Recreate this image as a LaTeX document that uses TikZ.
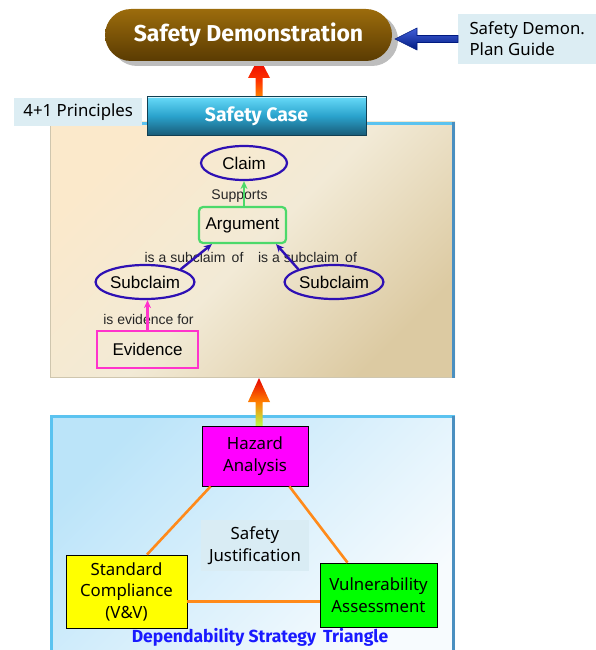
\documentclass[tikz,border=0pt]{standalone}
\usepackage{fontspec}
\setmainfont{Noto Sans}[BoldFont={Fira Sans Bold}]
\newfontfamily\arialf{Liberation Sans}
\usetikzlibrary{shapes.geometric,arrows.meta,calc}
\definecolor{sdtop}{HTML}{9C6C0C}
\definecolor{sdbot}{HTML}{5A3B02}
\definecolor{sdshadow}{HTML}{BDBDBD}
\definecolor{notebox}{HTML}{DCEDF3}
\definecolor{sctop}{HTML}{66DAF8}
\definecolor{scmid}{HTML}{2AA2CC}
\definecolor{scbot}{HTML}{195C78}
\definecolor{scedge}{HTML}{123F52}
\definecolor{beigeA}{HTML}{FBE9CB}
\definecolor{beigeM}{HTML}{F2EAD6}
\definecolor{beigeB}{HTML}{DCCAA2}
\definecolor{panelblue}{HTML}{5BC3F0}
\definecolor{paneldark}{HTML}{4A8FC0}
\definecolor{beigeedge}{HTML}{CFC6AE}
\definecolor{blueA}{HTML}{BBE4F9}
\definecolor{blueB}{HTML}{F7FBFE}
\definecolor{claimpurple}{HTML}{2E10B4}
\definecolor{arggreen}{HTML}{4CD96A}
\definecolor{evmagenta}{HTML}{FF33CC}
\definecolor{arrowblue}{HTML}{1238D0}
\definecolor{arrowbluedk}{HTML}{001A80}
\definecolor{linkorange}{HTML}{FF8A1A}
\definecolor{titleblue}{HTML}{1A1AFF}
\definecolor{justbox}{HTML}{D9ECF4}
\definecolor{hazmag}{HTML}{FF00FF}
\definecolor{stdyel}{HTML}{FFFF00}
\definecolor{vulgreen}{HTML}{00FF00}
\begin{document}
\begin{tikzpicture}[x=1pt,y=-1pt,
  note/.style={fill=notebox, inner sep=0pt, align=left, anchor=west,
    font=\fontsize{16.8}{21}\selectfont},
  gsnode/.style={font=\arialf\fontsize{17}{20}\selectfont, text=black, inner sep=0pt},
  gsoval/.style={gsnode, ellipse, draw=claimpurple, line width=2.2pt,
    minimum width=86pt, minimum height=34pt},
  gslabel/.style={font=\arialf\fontsize{14}{16}\selectfont, text=black!85, inner sep=0pt},
  stratbox/.style={draw=black, line width=0.8pt, inner sep=0pt, align=center,
    font=\fontsize{16.8}{21.5}\selectfont},
  link/.style={draw=linkorange, line width=2.6pt},
  gsarrow/.style={line width=2.4pt, -{Stealth[length=8pt,width=7pt]}}
]
\useasboundingbox (0,0) rectangle (596,650);

% ---------- beige safety case panel ----------
\fill[top color=beigeA, bottom color=beigeB, middle color=beigeM, shading angle=45] (50,122) rectangle (455,377);
\draw[beigeedge, line width=1pt] (50.5,122) -- (50.5,377.5) -- (453,377.5);
\draw[panelblue, line width=3pt] (50,123.5) -- (455,123.5);
\draw[paneldark, line width=3pt] (453.5,122) -- (453.5,378);

% ---------- blue dependability panel ----------
\fill[top color=blueA, bottom color=blueB, shading angle=45] (50,415) rectangle (455,650);
\draw[panelblue, line width=3pt] (51.5,650) -- (51.5,416.5) -- (455,416.5);
\draw[paneldark, line width=3pt] (453.5,416) -- (453.5,650);

% ---------- block arrows ----------
\coordinate (upA) at (259,104);
\shade[top color=red!90!black, bottom color=orange!70!yellow, middle color=red!60!orange]
  ($(upA)+(-3.5,0)$) -- ($(upA)+(3.5,0)$) -- ($(upA)+(3.5,-26)$) -- ($(upA)+(11,-26)$)
  -- ($(upA)+(0,-47)$) -- ($(upA)+(-11,-26)$) -- ($(upA)+(-3.5,-26)$) -- cycle;
\coordinate (upB) at (259,426);
\shade[top color=red!90!black, bottom color=yellow!60!green!70!white, middle color=orange]
  ($(upB)+(-3.5,0)$) -- ($(upB)+(3.5,0)$) -- ($(upB)+(3.5,-24)$) -- ($(upB)+(11,-24)$)
  -- ($(upB)+(0,-48)$) -- ($(upB)+(-11,-24)$) -- ($(upB)+(-3.5,-24)$) -- cycle;

% ---------- top: Safety Demonstration ----------
\fill[sdshadow, rounded corners=26pt] (111,14) rectangle (398,66);
\node[rounded corners=26pt, top color=sdtop, bottom color=sdbot,
  minimum width=287pt, minimum height=52pt, inner sep=0pt,
  text=white, font=\bfseries\fontsize{23}{26}\selectfont] (sd) at (248.5,35) {Safety Demonstration};

\node[note, minimum width=138pt, minimum height=50pt, inner xsep=10pt] (plan) at (458,39)
  {Safety Demon.\\Plan Guide};
\coordinate (bA) at (plan.west);
\shade[top color=arrowblue!80!white, bottom color=arrowbluedk, draw=arrowbluedk, line width=0.6pt]
  ($(bA)+(0,-3.5)$) -- ($(bA)+(-41,-3.5)$) -- ($(bA)+(-41,-11)$) -- ($(bA)+(-63,0)$)
  -- ($(bA)+(-41,11)$) -- ($(bA)+(-41,3.5)$) -- ($(bA)+(0,3.5)$) -- cycle;

% ---------- Safety Case header ----------
\node[note, minimum width=128pt, minimum height=28pt, inner xsep=8pt] (prin) at (14,112) {4+1 Principles};
\node[top color=sctop, bottom color=scbot, middle color=scmid, draw=scedge, line width=1pt,
  minimum width=219pt, minimum height=38pt, inner sep=0pt,
  text=white, font=\bfseries\fontsize{19.5}{22}\selectfont] (sc) at (256.5,116) {Safety Case};
\draw[white!70!sctop, line width=1pt] ($(sc.north west)+(1,1.2)$) -- ($(sc.north east)+(-1,1.2)$);

% ---------- GSN argument ----------
\node[gsoval] (claim) at (244,163) {Claim};
\node[gsnode, draw=arggreen, line width=2.2pt, rounded corners=4pt,
  minimum width=87pt, minimum height=36pt] (arg) at (242.5,225) {Argument};
\node[gsoval] (sub1) at (145,282) {Subclaim};
\node[gsoval] (sub2) at (334,282) {Subclaim};
\node[gsnode, draw=evmagenta, line width=2.2pt,
  minimum width=101pt, minimum height=37pt] (ev) at (147.5,349.5) {Evidence};

\node[gslabel] (lsup) at (239.5,196) {Supports};
\node[gslabel] (lsub1) at (194,257) {is a subclaim\, of};
\node[gslabel] (lsub2) at (307.5,257) {is a subclaim\, of};
\node[gslabel] (lev) at (148.5,319) {is evidence for};

\draw[gsarrow, arggreen] (arg.north -| claim.south) -- (claim.south);
\draw[gsarrow, claimpurple] (sub1.north east) -- ([xshift=14pt]arg.south west);
\draw[gsarrow, claimpurple] (sub2.north west) -- ([xshift=-11pt]arg.south east);
\draw[gsarrow, evmagenta] (ev.north) -- (ev.north |- sub1.south);

% ---------- dependability strategy triangle ----------
\node[stratbox, fill=hazmag, minimum width=106pt, minimum height=60pt] (haz) at (255,456)
  {Hazard\\Analysis};
\node[stratbox, fill=stdyel, minimum width=121pt, minimum height=73pt] (std) at (126.5,591.5)
  {Standard\\Compliance\\(V\&V)};
\node[stratbox, fill=vulgreen, minimum width=117pt, minimum height=64pt] (vul) at (378.5,595)
  {Vulnerability\\Assessment};
\node[fill=justbox, inner sep=0pt, align=center, minimum width=108pt, minimum height=51pt,
  font=\fontsize{16.8}{21.5}\selectfont] (just) at (255,545.5) {Safety\\Justification};

\draw[link] ([xshift=9pt]haz.south west) -- ([xshift=20.5pt]std.north);
\draw[link] ([xshift=-19pt]haz.south east) -- ([xshift=-31pt]vul.north);
\draw[link] ([yshift=-10pt]std.east) -- ([yshift=-10pt]std.east -| vul.west);

\node[font=\bfseries\fontsize{17.5}{20}\selectfont, text=titleblue, inner sep=0pt] (title) at (260,637)
  {Dependability Strategy\, Triangle};
\end{tikzpicture}
\end{document}
